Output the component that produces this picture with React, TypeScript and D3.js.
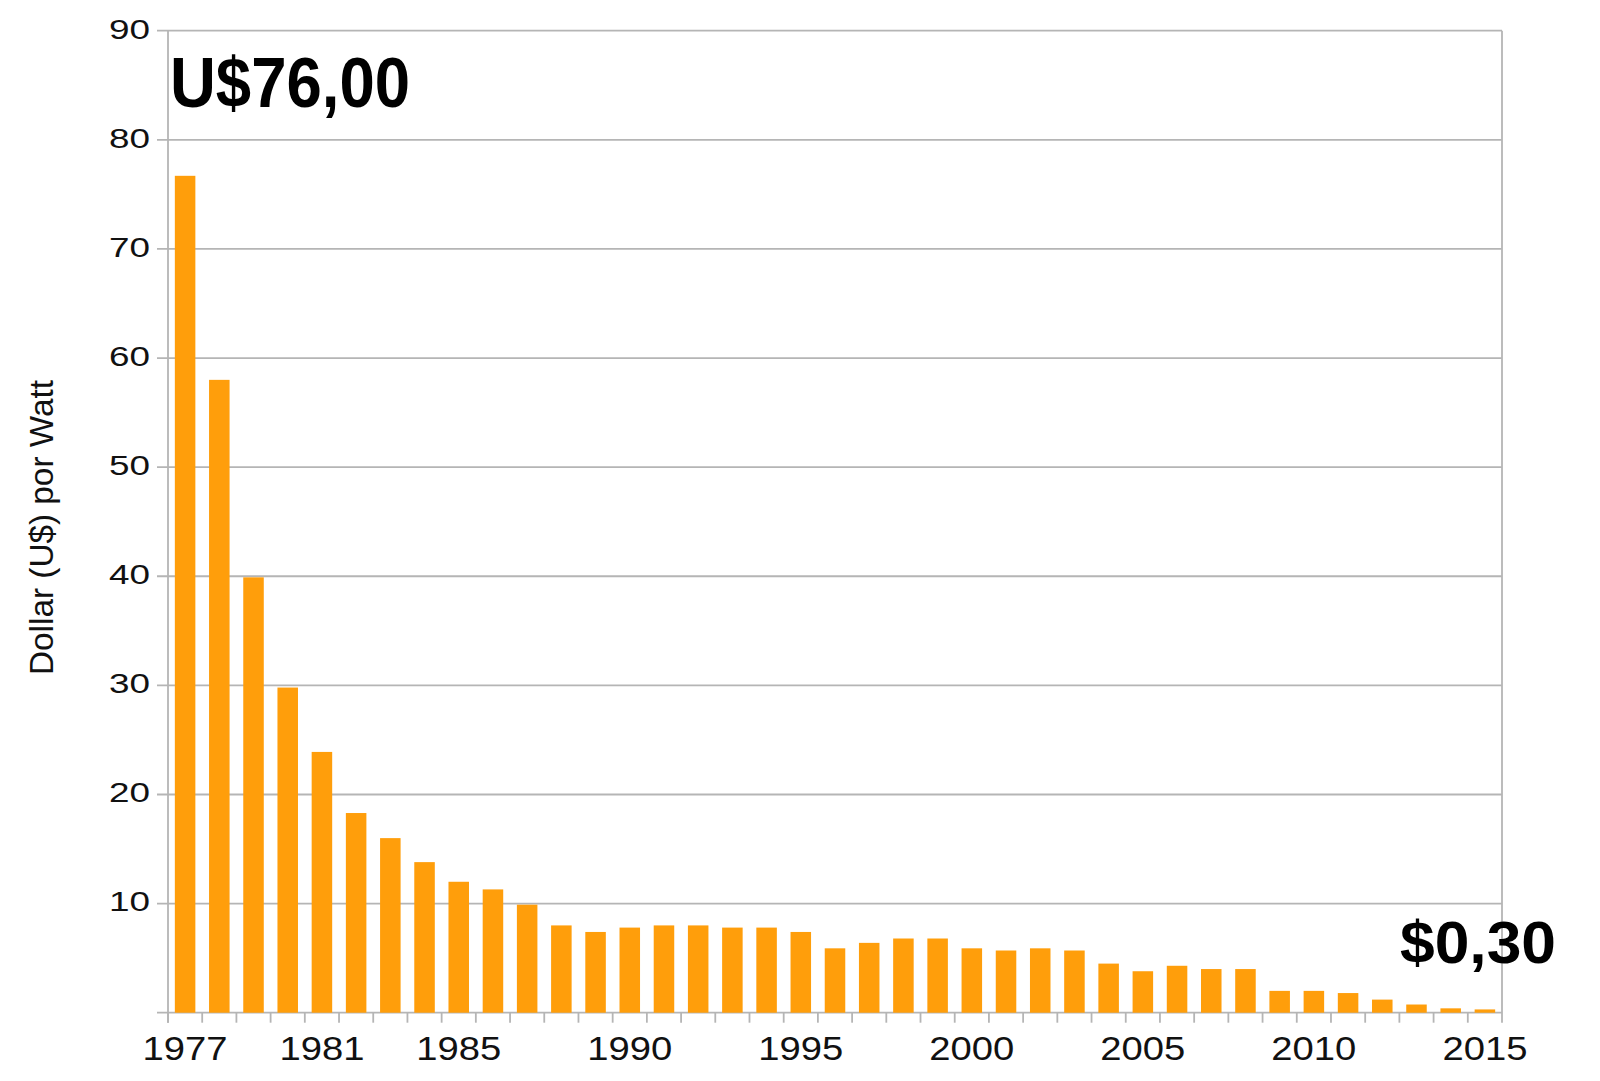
import React, { useEffect, useRef } from "react";
import * as d3 from "d3";

const years = [
  1977, 1978, 1979, 1980, 1981, 1982, 1983, 1984, 1985, 1986, 1987, 1988, 1989,
  1990, 1991, 1992, 1993, 1994, 1995, 1996, 1997, 1998, 1999, 2000, 2001, 2002,
  2003, 2004, 2005, 2006, 2007, 2008, 2009, 2010, 2011, 2012, 2013, 2014, 2015,
];
const prices = [
  76.7, 58.0, 39.9, 29.8, 23.9, 18.3, 16.0, 13.8, 12.0, 11.3, 9.9, 8.0, 7.4,
  7.8, 8.0, 8.0, 7.8, 7.8, 7.4, 5.9, 6.4, 6.8, 6.8, 5.9, 5.7, 5.9,
  5.7, 4.5, 3.8, 4.3, 4.0, 4.0, 2.0, 2.0, 1.8, 1.2, 0.75, 0.4, 0.3,
];
const labeledYears = [1977, 1981, 1985, 1990, 1995, 2000, 2005, 2010, 2015];
const yTicks = [0, 10, 20, 30, 40, 50, 60, 70, 80, 90];
const yTitle = "Dollar (U$) por Watt";
const firstNote = "U$76,00";
const lastNote = "$0,30";

const W = 1600;
const H = 1081;
const left = 168;
const right = 1502;
const top = 30.7;
const bottom = 1012.7;
const GRID = "#b5b5b5";
const BAR = "#ff9e0b";
const FONT = "'Liberation Sans', Arial, sans-serif";

export default function App() {
  const ref = useRef<SVGSVGElement>(null);

  useEffect(() => {
    const svg = d3.select(ref.current);
    svg.selectAll("*").remove();

    const x = d3
      .scaleBand<number>()
      .domain(years)
      .range([left, right])
      .paddingInner(0.4)
      .paddingOuter(0.2);
    const y = d3.scaleLinear().domain([0, 90]).range([bottom, top]);
    const step = x.step();

    // gridlines + y ticks
    const g = svg.append("g");
    g.selectAll("line.grid")
      .data(yTicks)
      .join("line")
      .attr("x1", left - 11)
      .attr("x2", right)
      .attr("y1", (d) => y(d))
      .attr("y2", (d) => y(d))
      .attr("stroke", GRID)
      .attr("stroke-width", 1.8);

    // y labels
    g.selectAll("text.ylab")
      .data(yTicks.filter((d) => d > 0))
      .join("text")
      .attr("x", 150)
      .attr("y", (d) => y(d) + 7.8)
      .attr("text-anchor", "end")
      .attr("font-family", FONT)
      .attr("font-size", 28)
      .attr("fill", "#111")
      .attr("textLength", 41)
      .attr("lengthAdjust", "spacingAndGlyphs")
      .text((d) => String(d));

    // bars
    svg
      .append("g")
      .selectAll("rect")
      .data(years)
      .join("rect")
      .attr("x", (d) => x(d)!)
      .attr("width", x.bandwidth())
      .attr("y", (d, i) => y(prices[i]))
      .attr("height", (d, i) => y(0) - y(prices[i]))
      .attr("fill", BAR);

    // axes frame
    svg
      .append("line")
      .attr("x1", left)
      .attr("x2", left)
      .attr("y1", top)
      .attr("y2", bottom + 10)
      .attr("stroke", GRID)
      .attr("stroke-width", 1.8);
    svg
      .append("line")
      .attr("x1", right)
      .attr("x2", right)
      .attr("y1", top)
      .attr("y2", bottom + 10)
      .attr("stroke", GRID)
      .attr("stroke-width", 1.8);

    // x tick marks at band boundaries
    svg
      .append("g")
      .selectAll("line")
      .data(years)
      .join("line")
      .attr("x1", (d) => x(d)! - x.bandwidth() * 0 - step * 0.2)
      .attr("x2", (d) => x(d)! - step * 0.2)
      .attr("y1", bottom)
      .attr("y2", bottom + 10)
      .attr("stroke", GRID)
      .attr("stroke-width", 1.8);

    // x labels
    svg
      .append("g")
      .selectAll("text")
      .data(labeledYears)
      .join("text")
      .attr("x", (d) => x(d)! + x.bandwidth() / 2)
      .attr("y", 1060)
      .attr("text-anchor", "middle")
      .attr("font-family", FONT)
      .attr("font-size", 32.5)
      .attr("fill", "#111")
      .attr("textLength", 85)
      .attr("lengthAdjust", "spacingAndGlyphs")
      .text((d) => String(d));

    // y title
    svg
      .append("text")
      .attr("transform", `translate(53,527.5) rotate(-90)`)
      .attr("text-anchor", "middle")
      .attr("font-family", FONT)
      .attr("font-size", 32.5)
      .attr("fill", "#111")
      .attr("textLength", 295)
      .attr("lengthAdjust", "spacingAndGlyphs")
      .text(yTitle);

    // annotations
    svg
      .append("text")
      .attr("x", 170)
      .attr("y", 106.7)
      .attr("font-family", FONT)
      .attr("font-weight", "bold")
      .attr("font-size", 70)
      .attr("fill", "#000")
      .attr("textLength", 240)
      .attr("lengthAdjust", "spacingAndGlyphs")
      .text(firstNote);
    svg
      .append("text")
      .attr("x", 1400)
      .attr("y", 963)
      .attr("font-family", FONT)
      .attr("font-weight", "bold")
      .attr("font-size", 60)
      .attr("fill", "#000")
      .attr("textLength", 156)
      .attr("lengthAdjust", "spacingAndGlyphs")
      .text(lastNote);
  }, []);

  return (
    <svg
      ref={ref}
      width={W}
      height={H}
      viewBox={`0 0 ${W} ${H}`}
      style={{ position: "absolute", left: 0, top: 0, background: "#fff" }}
    />
  );
}
